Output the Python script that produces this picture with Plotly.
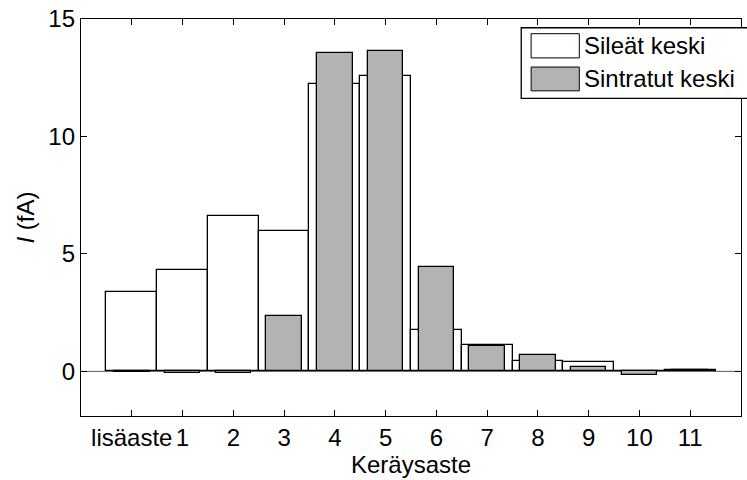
import plotly.graph_objects as go

categories = ["lisäaste", "1", "2", "3", "4", "5", "6", "7", "8", "9", "10", "11"]
positions = list(range(len(categories)))
sileat = [3.36, 4.32, 6.6, 5.97, 12.22, 12.57, 1.74, 1.13, 0.45, 0.41, 0.02, 0.06]
sintratut = [-0.02, -0.05, -0.05, 2.37, 13.57, 13.63, 4.45, 1.06, 0.68, 0.2, -0.16, 0.04]
series_names = ["Sileät keski", "Sintratut keski"]

FONT = "Liberation Sans, Arial, sans-serif"
FS = 24
GRAY = "#b3b3b3"

fig = go.Figure()
fig.add_trace(go.Bar(x=positions, y=sileat, width=1.0, name=series_names[0],
                     marker=dict(color="white", line=dict(color="black", width=1.3)),
                     showlegend=False))
fig.add_trace(go.Bar(x=positions, y=sintratut, width=0.7, name=series_names[1],
                     marker=dict(color=GRAY, line=dict(color="black", width=1.3)),
                     showlegend=False))

# baseline
fig.add_shape(type="line", xref="x", yref="y", x0=-1, x1=12, y0=0, y1=0,
              line=dict(color="#555555", width=1), layer="below")

# manual legend (MATLAB style)
fig.add_shape(type="rect", xref="paper", yref="paper", x0=0.667, x1=1.02, y0=0.800, y1=0.978,
              line=dict(color="black", width=1.3), fillcolor="white", layer="above")
swatch_fill = ["white", GRAY]
sw_y = [(0.902, 0.963), (0.819, 0.879)]
txt_y = [0.932, 0.850]
for i in range(2):
    fig.add_shape(type="rect", xref="paper", yref="paper", x0=0.682, x1=0.755,
                  y0=sw_y[i][0], y1=sw_y[i][1],
                  line=dict(color="black", width=1), fillcolor=swatch_fill[i], layer="above")
    fig.add_annotation(xref="paper", yref="paper", x=0.759, y=txt_y[i], text=series_names[i],
                       showarrow=False, xanchor="left", yanchor="middle",
                       font=dict(family=FONT, size=FS, color="black"))

axis_common = dict(showline=True, linecolor="black", linewidth=1.3, mirror="ticks",
                   ticks="inside", ticklen=6, tickcolor="black", showgrid=False, zeroline=False,
                   tickfont=dict(family=FONT, size=FS, color="black"))

fig.update_layout(
    width=747, height=480,
    margin=dict(l=81, r=5, t=17, b=64),
    paper_bgcolor="white", plot_bgcolor="white",
    barmode="overlay", bargap=0,
    xaxis=dict(range=[-1, 12], tickmode="array", tickvals=positions, ticktext=categories,
               title=dict(text="Keräysaste", font=dict(family=FONT, size=FS, color="black"),
                          standoff=0),
               **axis_common),
    yaxis=dict(range=[-1.9, 15], tickmode="array", tickvals=[0, 5, 10, 15],
               title=dict(text="<i>I</i> (fA)", font=dict(family=FONT, size=FS, color="black"),
                          standoff=6),
               **axis_common),
)

fig.write_html("out.html")
